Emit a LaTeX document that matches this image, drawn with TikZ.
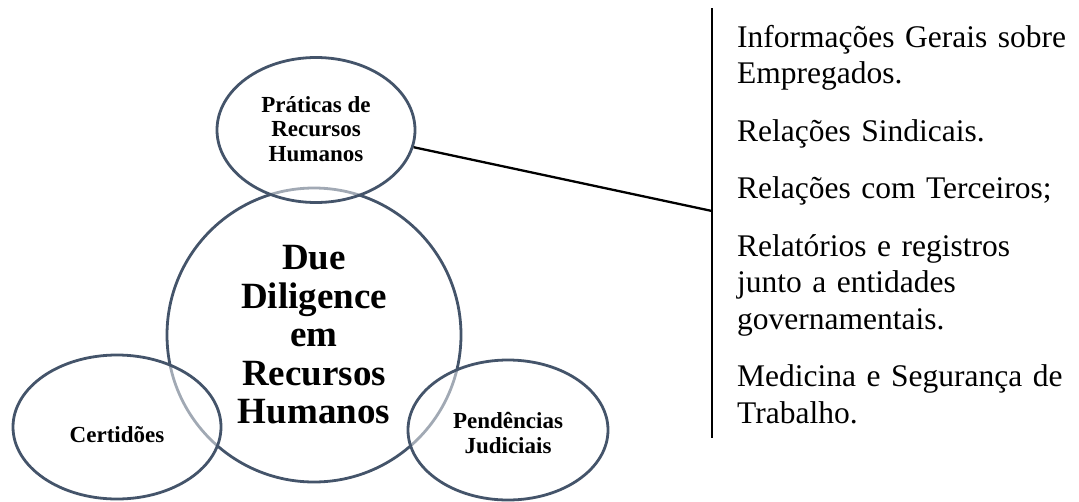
\documentclass[tikz,border=0pt]{standalone}
\usepackage{fontspec}
\setmainfont{Liberation Serif}
\usetikzlibrary{shapes.geometric, positioning}
\definecolor{ringblue}{RGB}{68,84,106}

\begin{document}
\begin{tikzpicture}[x=1pt, y=-1pt,
    ring/.style={ellipse, draw=ringblue, line width=2.8pt, inner sep=0pt, align=center},
    subring/.style={ring, fill=white, fill opacity=0.5, text opacity=1},
    sublabel/.style={align=center, inner sep=0pt, font=\fontsize{23}{24.5}\selectfont\bfseries}]
    \useasboundingbox (0,0) rectangle (1079,501);

    % Central circle
    \node[ring, minimum size=294pt, font=\fontsize{37}{38.5}\selectfont\bfseries] (hr) at (314,335) {Due\\Diligence\\em\\Recursos\\Humanos};

    % Satellite ellipses (semi-transparent fill over the circle)
    \node[subring, minimum width=198pt, minimum height=145pt] (praticas) at (316,130) {};
    \node[subring, minimum width=208pt, minimum height=144pt] (certidoes) at (117,427) {};
    \node[subring, minimum width=200pt, minimum height=140pt] (pendencias) at (508,430) {};
    \node[sublabel] (praticaslabel) at ([yshift=1pt]praticas.center) {Práticas de\\Recursos\\Humanos};
    \node[sublabel] (certidoeslabel) at ([yshift=-8pt]certidoes.center) {Certidões};
    \node[sublabel] (pendenciaslabel) at ([yshift=-3pt]pendencias.center) {Pendências\\Judiciais};

    % Bracket with the list of topics
    \coordinate (listtop) at (712,8);
    \coordinate (listbot) at (712,438);
    \coordinate (listmid) at (712,211);
    \draw[line width=2.6pt] (listtop) -- (listbot);
    \draw[line width=2.3pt] (praticas.-10) -- (listmid);

    \node[anchor=base west, text width=340pt, align=left, inner sep=0pt,
        font=\fontsize{31.5}{36.5}\selectfont] (topics) at (737,47)
        {Informações Gerais sobre\\Empregados.\\[21pt]
         Relações Sindicais.\\[21pt]
         Relações com Terceiros;\\[21pt]
         Relatórios e registros\\junto a entidades\\governamentais.\\[21pt]
         Medicina e Segurança de\\Trabalho.};
\end{tikzpicture}
\end{document}
